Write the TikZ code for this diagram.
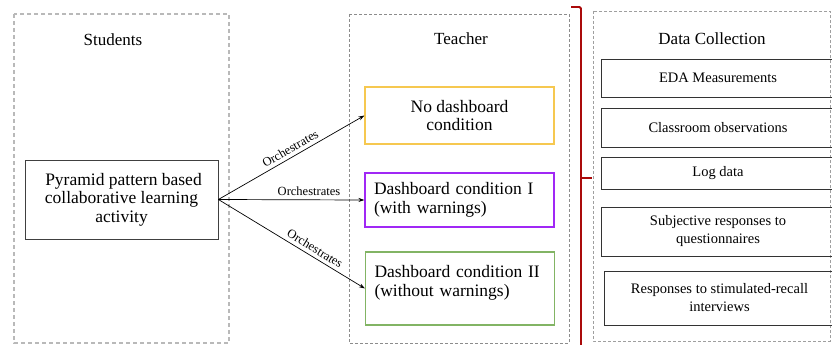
\documentclass[tikz,border=0pt]{standalone}
\usepackage{fontspec}
\setmainfont{Liberation Serif}
\usepackage{tikz}
\usetikzlibrary{arrows.meta,positioning}
\usepackage{xcolor}
\definecolor{condyellow}{RGB}{246,200,80}
\definecolor{condpurple}{RGB}{160,40,245}
\definecolor{condgreen}{RGB}{130,180,100}
\definecolor{bracered}{RGB}{170,10,10}

\tikzset{
  group/.style={draw=gray!70,dashed,line width=0.9pt},
  heading/.style={font=\fontsize{17}{18}\selectfont},
  condbox/.style={draw,line width=1.1pt,minimum width=189pt,inner xsep=9pt,
    font=\fontsize{17.5}{18.5}\selectfont},
  databox/.style={draw=black!80,line width=0.8pt,minimum width=234pt,
    align=center,font=\fontsize{14.5}{18}\selectfont},
  orch/.style={->,>={Stealth[length=6pt,width=4pt]},line width=0.7pt},
  orchlabel/.style={font=\fontsize{12.5}{13}\selectfont,above,sloped,inner sep=3.5pt}
}

\begin{document}
\begin{tikzpicture}[x=1pt,y=-1pt]
    \useasboundingbox (0,0) rectangle (832,345);

    % Students
    \draw[group,draw=gray!55,line width=1.2pt,dash pattern=on 4pt off 3pt] (14,14) rectangle (229,343);
    \node[heading] (students) at (113,40) {Students};
    \node[draw=black!75,line width=0.8pt,minimum width=193pt,minimum height=79pt,
      align=center,font=\fontsize{17.5}{18.5}\selectfont] (pyramid) at (121.5,199.5)
      {\hspace*{4pt}Pyramid pattern based\\collaborative learning\\activity};

    % Teacher
    \draw[group,draw=gray!90,line width=0.7pt,dash pattern=on 3pt off 2pt] (349,14) rectangle (569,343);
    \node[heading] (teacher) at (461,39) {Teacher};
    \node[condbox,condyellow,text=black,minimum height=57pt,align=center] (nodash) at (459.5,115.5)
      {No dashboard\\condition};
    \node[condbox,condpurple,text=black,minimum height=54pt,align=left,text width=171pt] (dashone) at (459.5,200)
      {Dashboard condition I\\(with warnings)};
    \node[condbox,condgreen,text=black,minimum height=73pt,align=left,text width=171pt,
      text depth=34pt] (dashtwo) at (460,288.5)
      {Dashboard condition II\\(without warnings)};

    \draw[orch] (pyramid.east) -- node[orchlabel,pos=0.52] {Orchestrates} (nodash.west);
    \draw[orch] (pyramid.east) -- node[orchlabel,pos=0.62] {Orchestrates} (dashone.west);
    \draw[orch] (pyramid.east) -- node[orchlabel,pos=0.63] {Orchestrates} (dashtwo.west);

    % brace
    \draw[bracered,line width=1.8pt,rounded corners=1.5pt] (571,7) -- (581,7) -- (581,346);
    \draw[bracered,line width=1.8pt] (581,178) -- (592,178);

    % Data Collection
    \draw[group,draw=gray!75,line width=0.8pt,dash pattern=on 3pt off 2pt] (593,11) rectangle (830,341);
    \node[heading] (datacoll) at (712,39) {Data Collection};
    \node[databox,minimum height=38pt] (eda) at (718,78) {EDA Measurements};
    \node[databox,minimum height=39pt] (observ) at (718,127.5) {Classroom observations};
    \node[databox,minimum height=32pt] (logdata) at (718,173) {Log data};
    \node[databox,minimum height=49pt] (subjective) at (718,231.5) {Subjective responses to\\questionnaires};
    \node[databox,minimum height=54pt,minimum width=231pt] (recall) at (719.5,298) {Responses to stimulated-recall\\interviews};
  \end{tikzpicture}
\end{document}
